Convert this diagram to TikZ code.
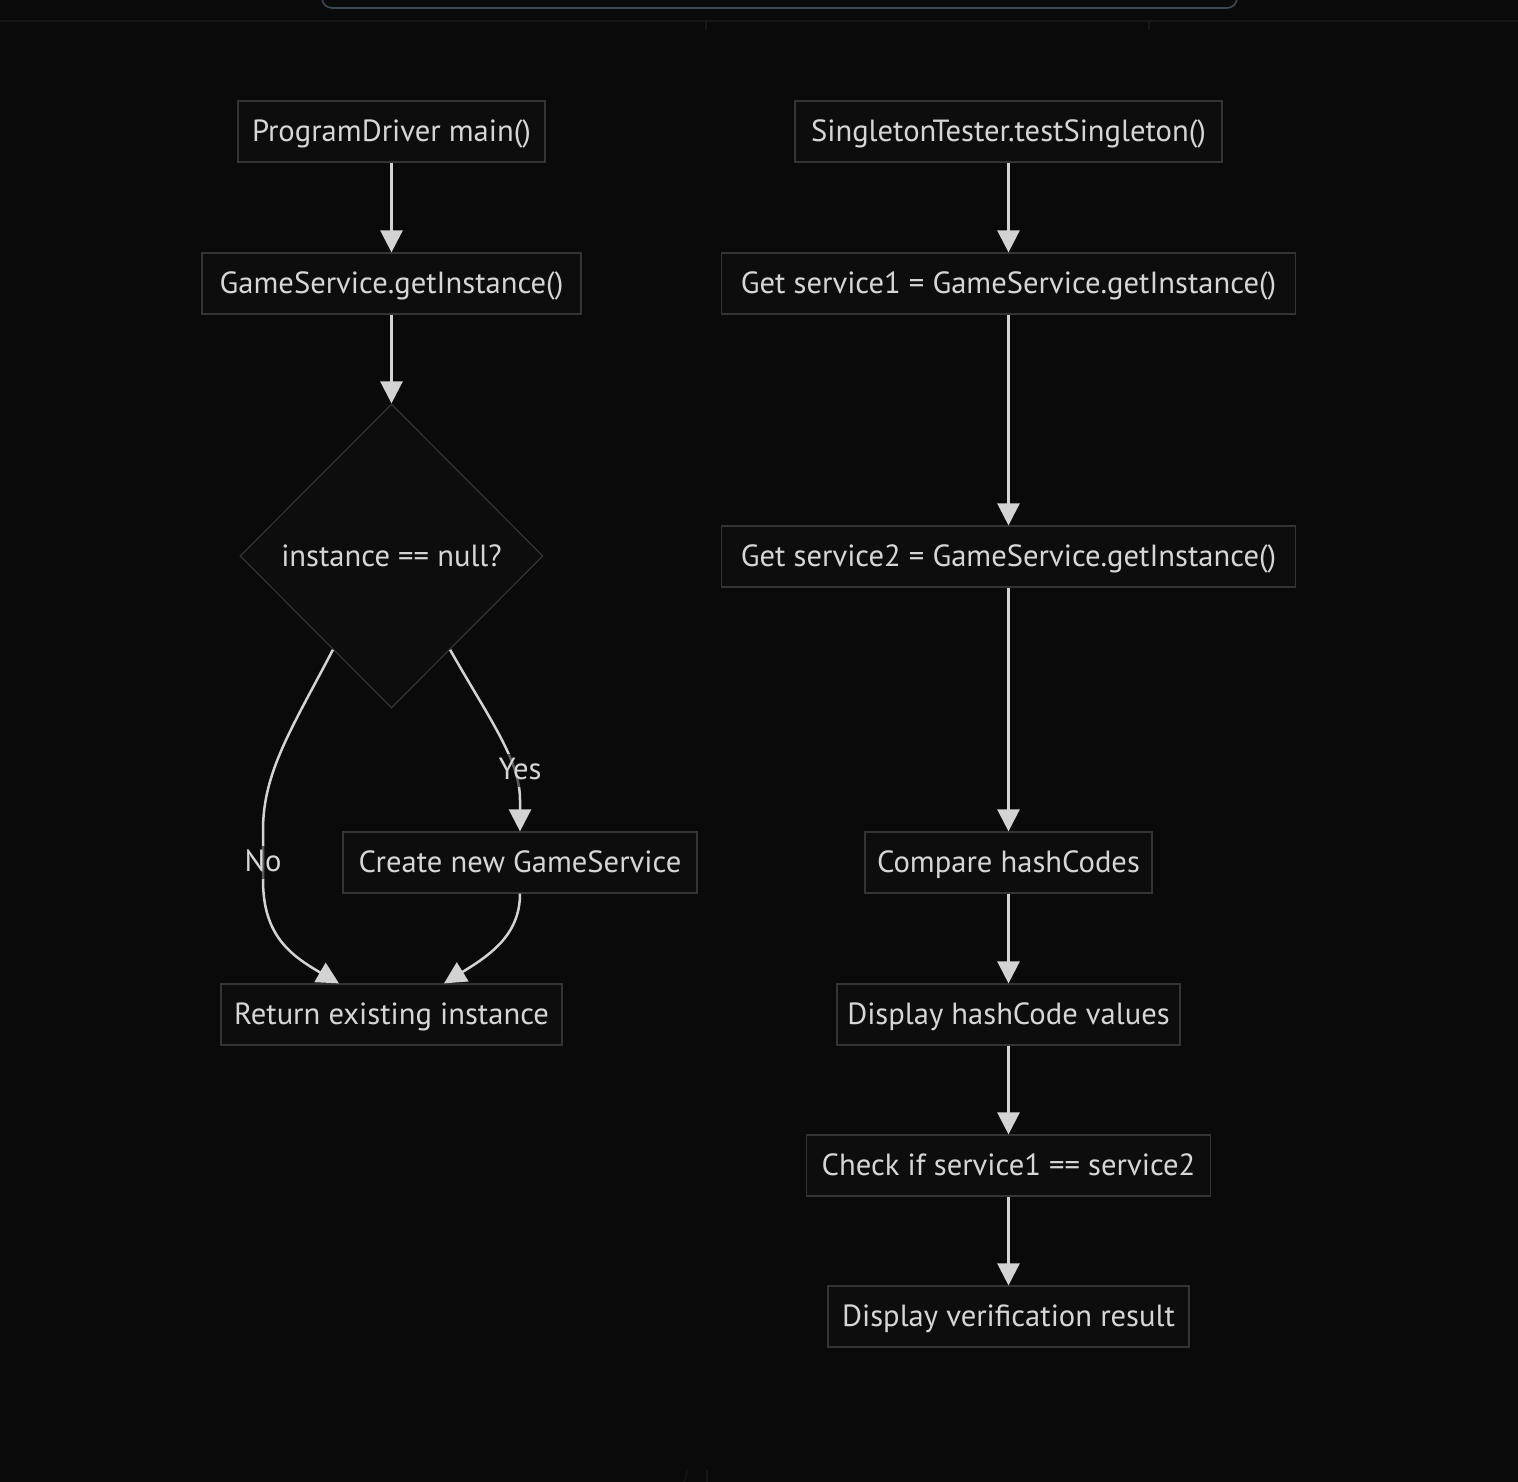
\documentclass[tikz,border=0pt]{standalone}
\usepackage{fontspec}
\setmainfont{PT Sans}
\usetikzlibrary{shapes.geometric,arrows.meta,calc}
\definecolor{bg}{HTML}{0A0A0A}
\definecolor{boxfill}{HTML}{0D0D0D}
\definecolor{boxline}{HTML}{343434}
\definecolor{txt}{HTML}{D6D6D6}
\definecolor{edgecol}{HTML}{D3D3D3}
\definecolor{topframe}{HTML}{3A4B53}
\definecolor{faint}{HTML}{171717}
\newcommand{\nodefont}{\fontsize{30.6}{36}\selectfont}
\begin{document}
\begin{tikzpicture}[x=1pt,y=-1pt,
  box/.style={draw=boxline, line width=1.2pt, fill=boxfill, text=txt, font=\nodefont, minimum height=61pt, inner sep=0pt, text height=25pt, text depth=5pt},
  decision/.style={diamond, aspect=1, draw=boxline, line width=1.2pt, fill=boxfill, text=txt, font=\nodefont, minimum width=303pt, minimum height=304pt, inner sep=0pt, text height=25pt, text depth=5pt},
  flow/.style={draw=edgecol, line width=2.5pt, -{Triangle[length=22pt,width=22pt]}},
  elabel/.style={text=txt, font=\nodefont, fill=bg, fill opacity=0.6, text opacity=1, inner sep=1pt, text height=25pt, text depth=6pt}
]
\useasboundingbox (0,0) rectangle (1518,1482);
\clip (0,0) rectangle (1518,1482);
\fill[bg] (0,0) rectangle (1518,1482);
% top decorations
\draw[topframe, line width=1.6pt, rounded corners=10pt] (322,-30) rectangle (1237,8);
\draw[faint, line width=1.5pt] (0,21) -- (1518,21);
\draw[faint, line width=1.2pt] (706,21) -- (706,30);
\draw[faint, line width=1.2pt] (1149,21) -- (1149,30);
\draw[faint, line width=1.2pt] (707,1470) -- (707,1482);
\draw[faint, line width=1.2pt] (688,1470) -- (684,1482);

% left column
\node[box, minimum width=307pt] (A) at (391.5,131.5) {ProgramDriver main()};
\node[box, minimum width=379pt] (B) at (391.5,283.5) {GameService.getInstance()};
\node[decision] (C) at (391.5,556) {instance == null?};
\node[box, minimum width=354pt] (D) at (520,862.5) {Create new GameService};
\node[box, minimum width=341pt] (E) at (391.5,1014.5) {Return existing instance};

% right column
\node[box, minimum width=427pt] (F) at (1008.5,131.5) {SingletonTester.testSingleton()};
\node[box, minimum width=574pt] (G) at (1008.5,283.5) {Get service1 = GameService.getInstance()};
\node[box, minimum width=574pt] (H) at (1008.5,556.5) {Get service2 = GameService.getInstance()};
\node[box, minimum width=287pt] (I) at (1008.5,862.5) {Compare hashCodes};
\node[box, minimum width=343pt] (J) at (1008.5,1014.5) {Display hashCode values};
\node[box, minimum width=404pt] (K) at (1008.5,1165.5) {Check if service1 == service2};
\node[box, minimum width=361pt] (L) at (1008.5,1316.5) {Display verification result};

% left edges
\draw[flow] (A) -- (B);
\draw[flow] (B) -- (C);
\draw[flow] (C.-122) .. controls (292,728) and (263,772) .. (263,830) -- (263,880) .. controls (263,935) and (290,955) .. ($(E.north)+(-52.5,0)$);
\draw[flow] (C.-58) .. controls (490,720) and (520,760) .. (520,800) -- (D.north);
\draw[flow] (D.south) .. controls (520,935) and (490,955) .. ($(E.north)+(52.5,0)$);
\node[elabel] (yes) at (520,770) {Yes};
\node[elabel] (no) at (263,862) {No};

% right edges
\draw[flow] (F) -- (G);
\draw[flow] (G) -- (H);
\draw[flow] (H) -- (I);
\draw[flow] (I) -- (J);
\draw[flow] (J) -- (K);
\draw[flow] (K) -- (L);
\end{tikzpicture}
\end{document}
